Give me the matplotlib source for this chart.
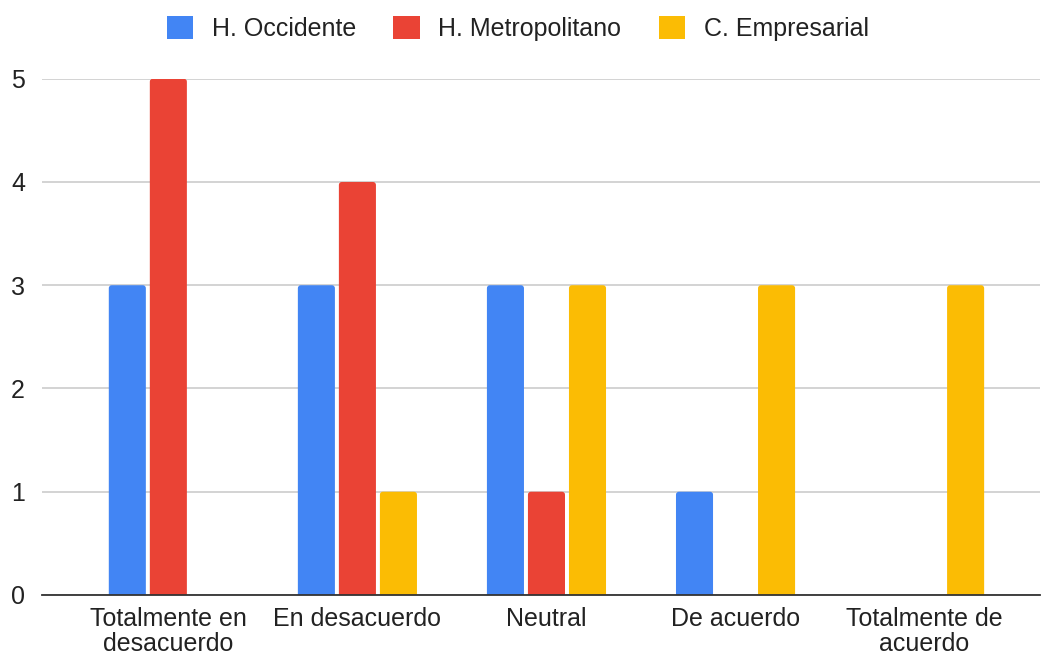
import numpy as np
import matplotlib.pyplot as plt
from matplotlib.patches import FancyBboxPatch, Patch

categorias = ['Totalmente en\ndesacuerdo', 'En desacuerdo', 'Neutral', 'De acuerdo', 'Totalmente de\nacuerdo']
occidente = [3, 3, 3, 1, 0]
metropolitano = [5, 4, 1, 0, 0]
empresarial = [0, 1, 3, 3, 3]
series = ['H. Occidente', 'H. Metropolitano', 'C. Empresarial']
colores = ['#4285F4', '#EA4335', '#FBBC04']

plt.rcParams['font.family'] = ['Liberation Sans', 'DejaVu Sans']

fig = plt.figure(figsize=(10.42, 6.56), dpi=100)
ax = fig.add_axes([0.040, 0.093, 0.958, 0.787])

x = np.arange(len(categorias))
w = 0.196
off = 0.217
for i, (vals, c) in enumerate(zip([occidente, metropolitano, empresarial], colores)):
    bars = ax.bar(x + (i - 1) * off, vals, width=w, color=c, zorder=3)
    # esquinas superiores redondeadas
    for b in bars:
        b.set_visible(False)
        if b.get_height() == 0:
            continue
        p = FancyBboxPatch((b.get_x(), -0.1), b.get_width(), b.get_height() + 0.1,
                           boxstyle='round,pad=0,rounding_size=0.016',
                           mutation_aspect=1.8, facecolor=c, edgecolor='none', zorder=3)
        ax.add_patch(p)

ax.set_xlim(-0.67, 4.61)
ax.set_ylim(0, 5)
ax.set_yticks(range(6))
ax.set_xticks(x)
ax.set_xticklabels(categorias, fontsize=18, color='#222222', linespacing=1.02)
ax.tick_params(axis='y', labelsize=18, colors='#222222', length=0, pad=12)
ax.tick_params(axis='x', length=0, pad=9)
ax.grid(axis='y', color='#cccccc', linewidth=1.2, zorder=0)
for s in ['top', 'right', 'left']:
    ax.spines[s].set_visible(False)
ax.spines['bottom'].set_color('#333333')
ax.spines['bottom'].set_linewidth(1.3)
ax.spines['bottom'].set_zorder(4)

handles = [Patch(facecolor=c, edgecolor='none', label=n) for c, n in zip(colores, series)]
fig.legend(handles=handles, loc='upper center', bbox_to_anchor=(0.497, 1.01), ncol=3, frameon=False,
           fontsize=18, handlelength=1.05, handleheight=1.05, columnspacing=1.5,
           handletextpad=0.75, labelcolor='#222222')

plt.savefig('out.png', dpi=100)
